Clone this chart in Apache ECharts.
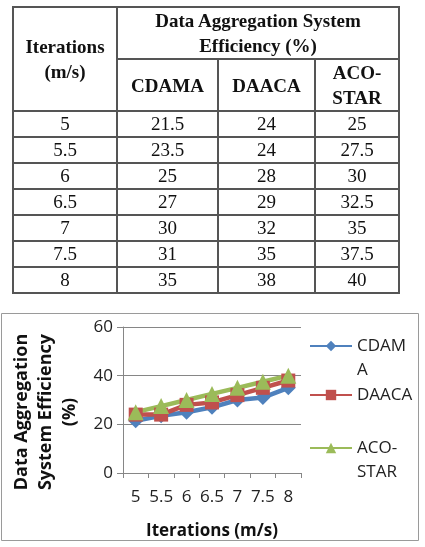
<!DOCTYPE html>
<html>
<head>
<meta charset="utf-8">
<script src="https://cdn.jsdelivr.net/npm/echarts@6/dist/echarts.min.js"></script>
<style>
  html,body{margin:0;padding:0;background:#fff;}
  #chart{position:absolute;left:0;top:0;width:425px;height:547px;}
  table{position:absolute;left:12px;top:6px;border-collapse:collapse;
    font-family:"Liberation Serif","Times New Roman",serif;color:#111;z-index:2;}
  td,th{border:2px solid #555;text-align:center;padding:0;}
  th{font-weight:bold;font-size:19px;line-height:25px;}
  td{font-size:19px;height:24px;line-height:24px;}
</style>
</head>
<body>
<div id="chart"></div>
<table id="tbl">
  <colgroup><col style="width:104px"><col style="width:101px"><col style="width:97px"><col style="width:84px"></colgroup>
</table>
<script>
// data
const categories=['5','5.5','6','6.5','7','7.5','8'];
const cdama=[21.5,23.5,25,27,30,31,35];
const daaca=[24,24,28,29,32,35,38];
const acoStar=[25,27.5,30,32.5,35,37.5,40];
const seriesNames=['CDAMA','DAACA','ACO-STAR'];
const yTicks=[0,20,40,60];

// table
let tbl=document.getElementById('tbl');
let html='<tr><th rowspan="2" style="height:98px">Iterations<br>(m/s)</th><th colspan="3" style="height:47px">Data Aggregation System<br>Efficiency (%)</th></tr>';
html+='<tr><th style="height:49px">CDAMA</th><th>DAACA</th><th>ACO-<br>STAR</th></tr>';
for(var i=0;i<categories.length;i++){
  html+='<tr><td>'+categories[i]+'</td><td>'+cdama[i]+'</td><td>'+daaca[i]+'</td><td>'+acoStar[i]+'</td></tr>';
}
tbl.innerHTML+=html;

const chart=echarts.init(document.getElementById('chart'),null,{renderer:'canvas'});
const font='"Open Sans", sans-serif';
const colors=['#4F81BD','#C0504D','#9BBB59'];
const symbols=['diamond','rect','triangle'];
const values=[cdama,daaca,acoStar];
// a blank first line keeps the marker level with the first text line
const legendText={'CDAMA':' \nCDAM\nA','DAACA':'DAACA','ACO-STAR':' \nACO-\nSTAR'};
const legendTop=[305,378,407];

let option={
  animation:false,
  color:colors,
  graphic:[{
    type:'rect',
    shape:{x:1.5,y:313.5,width:417,height:227},
    style:{fill:'none',stroke:'#9a9a9a',lineWidth:1}
  }],
  grid:{left:123,right:124,top:327,bottom:74},
  legend:seriesNames.map(function(n,i){
    return {
      data:[n],
      left:304,
      top:legendTop[i],
      itemWidth:42,
      itemHeight:13,
      itemGap:0,
      formatter:function(name){return legendText[name];},
      textStyle:{fontFamily:font,fontSize:17,color:'#222',lineHeight:24}
    };
  }),
  xAxis:{
    type:'category',
    data:categories,
    boundaryGap:true,
    name:'Iterations (m/s)',
    nameLocation:'middle',
    nameGap:50,
    nameTextStyle:{fontFamily:font,fontSize:17,fontWeight:'bold',color:'#111'},
    axisLine:{lineStyle:{color:'#868686'}},
    axisTick:{show:true,length:5,lineStyle:{color:'#868686'}},
    axisLabel:{fontFamily:font,fontSize:17,color:'#222',margin:16,interval:0}
  },
  yAxis:{
    type:'value',
    min:0,max:60,interval:20,
    name:'Data Aggregation\nSystem Efficiency\n(%)',
    nameLocation:'middle',
    nameGap:41,
    nameRotate:90,
    nameTextStyle:{fontFamily:font,fontSize:18,fontWeight:'bold',color:'#111',lineHeight:24,padding:[0,24,0,0]},
    axisLine:{show:true,lineStyle:{color:'#868686'}},
    axisTick:{show:true,length:6,lineStyle:{color:'#868686'}},
    splitLine:{lineStyle:{color:'#868686'}},
    axisLabel:{fontFamily:font,fontSize:17,color:'#222',margin:10,
      formatter:function(v){return yTicks.indexOf(v)>=0?String(v):'';}}
  },
  series:seriesNames.map(function(n,i){
    return {
      name:n,
      type:'line',
      data:values[i],
      symbol:symbols[i],
      symbolSize:[15,14,16][i],
      lineStyle:{width:4.5},
      itemStyle:{color:colors[i]}
    };
  })
};
chart.setOption(option);
</script>
</body>
</html>
